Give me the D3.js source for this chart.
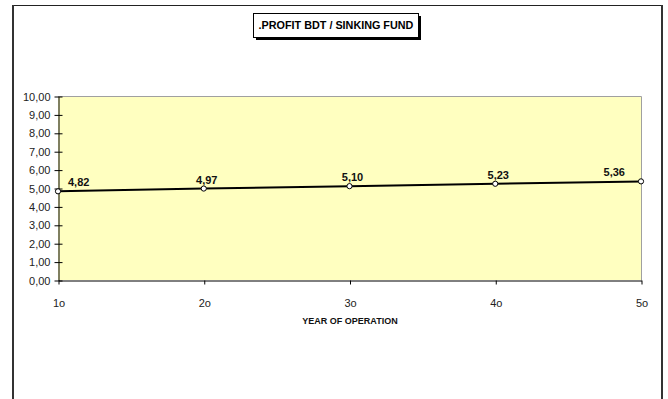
<!DOCTYPE html>
<html>
<head>
<meta charset="utf-8">
<script src="https://cdn.jsdelivr.net/npm/d3@7"></script>
<style>
  html, body { margin: 0; padding: 0; background: #fff; }
  svg { display: block; }
</style>
</head>
<body>
<svg id="chart" width="668" height="399"></svg>
<script>
// Chart data
const years = ["1o", "2o", "3o", "4o", "5o"];
const profitRatio = [4.82, 4.97, 5.10, 5.23, 5.36];
const yTicks = [0, 1, 2, 3, 4, 5, 6, 7, 8, 9, 10];
const chartTitle = ".PROFIT BDT / SINKING FUND";
const xAxisTitle = "YEAR OF OPERATION";

const svg = d3.select("#chart");
const W = 668, H = 399;
const plot = { left: 58, right: 641, top: 96, bottom: 280 };
const fmt = v => d3.format(".2f")(v).replace(".", ",");

// Outer chart frame (bottom edge runs off the page)
svg.append("line").attr("x1", 12).attr("x2", 663).attr("y1", 5.5).attr("y2", 5.5)
  .attr("stroke", "#222").attr("stroke-width", 1);
svg.append("line").attr("x1", 13).attr("x2", 13).attr("y1", 5).attr("y2", H)
  .attr("stroke", "#333").attr("stroke-width", 2);
svg.append("line").attr("x1", 662).attr("x2", 662).attr("y1", 5).attr("y2", H)
  .attr("stroke", "#333").attr("stroke-width", 2);

// Scales
const x = d3.scalePoint().domain(years).range([plot.left, plot.right]);
const y = d3.scaleLinear().domain([0, 10]).range([plot.bottom, plot.top]);

// Plot area
svg.append("rect")
  .attr("x", plot.left).attr("y", plot.top)
  .attr("width", plot.right - plot.left).attr("height", plot.bottom - plot.top)
  .attr("fill", "#ffffc0");
svg.append("path")
  .attr("d", `M${plot.left},${plot.top + 0.5} H${plot.right + 0.5} V${plot.bottom}`)
  .attr("fill", "none").attr("stroke", "#a0a0a0").attr("stroke-width", 1);

// Y axis
const yAxis = d3.axisLeft(y).tickValues(yTicks).tickFormat(fmt).tickSize(4).tickSizeOuter(0);
const gy = svg.append("g").attr("transform", `translate(${plot.left + 0.5},0.5)`).call(yAxis);
gy.selectAll(".tick line").attr("x2", -4).attr("x1", 4).attr("stroke", "#000");
gy.select(".domain").attr("stroke", "#000");
gy.selectAll(".tick text")
  .attr("x", -8)
  .attr("font-family", "'Liberation Sans', Arial, sans-serif")
  .attr("font-size", 11).attr("fill", "#222");

// X axis
const xAxis = d3.axisBottom(x).tickSize(4).tickSizeOuter(0).tickPadding(15);
const gx = svg.append("g").attr("transform", `translate(0.5,${plot.bottom + 0.5})`).call(xAxis);
gx.select(".domain").attr("stroke", "#000");
gx.selectAll(".tick line").attr("stroke", "#000");
gx.selectAll(".tick text")
  .attr("font-family", "'Liberation Sans', Arial, sans-serif")
  .attr("font-size", 11).attr("fill", "#222");

// X axis title
svg.append("text")
  .attr("x", 350).attr("y", 324)
  .attr("text-anchor", "middle")
  .attr("font-family", "'Liberation Sans Narrow', 'Arial Narrow', 'Liberation Sans', sans-serif")
  .attr("font-weight", "bold").attr("font-size", 9)
  .attr("fill", "#111")
  .text(xAxisTitle);

// Series line
const data = years.map((k, i) => ({ k, v: profitRatio[i] }));
svg.append("path")
  .datum(data)
  .attr("d", d3.line().x(d => x(d.k)).y(d => y(d.v)))
  .attr("fill", "none").attr("stroke", "#000").attr("stroke-width", 2);

// Markers
svg.selectAll("circle.pt").data(data).join("circle")
  .attr("class", "pt")
  .attr("cx", d => x(d.k)).attr("cy", d => y(d.v)).attr("r", 2.6)
  .attr("fill", "#fff").attr("stroke", "#000").attr("stroke-width", 1);

// Value labels, kept inside the plot area
const labels = svg.selectAll("text.val").data(data).join("text")
  .attr("class", "val")
  .attr("y", d => y(d.v) - 5)
  .attr("font-family", "'Liberation Sans', Arial, sans-serif")
  .attr("font-weight", "bold").attr("font-size", 11)
  .attr("fill", "#111")
  .text(d => fmt(d.v));
labels.each(function (d) {
  const w = this.getComputedTextLength();
  let cx = x(d.k) + 3;
  cx = Math.max(plot.left + 10 + w / 2, Math.min(plot.right - 16 - w / 2, cx));
  d3.select(this).attr("x", cx).attr("text-anchor", "middle");
});

// Title box with drop shadow
const tb = { x: 253, y: 13, w: 165, h: 24 };
svg.append("rect").attr("x", tb.x + 3).attr("y", tb.y + 3).attr("width", tb.w).attr("height", tb.h).attr("fill", "#000");
svg.append("rect").attr("x", tb.x + 0.5).attr("y", tb.y + 0.5).attr("width", tb.w).attr("height", tb.h)
  .attr("fill", "#fff").attr("stroke", "#000").attr("stroke-width", 1);
svg.append("text")
  .attr("x", tb.x + tb.w / 2 + 0.5).attr("y", tb.y + 16)
  .attr("text-anchor", "middle")
  .attr("font-family", "'Liberation Sans', Arial, sans-serif")
  .attr("font-weight", "bold").attr("font-size", 10.8)
  .attr("fill", "#000")
  .text(chartTitle);
</script>
</body>
</html>
